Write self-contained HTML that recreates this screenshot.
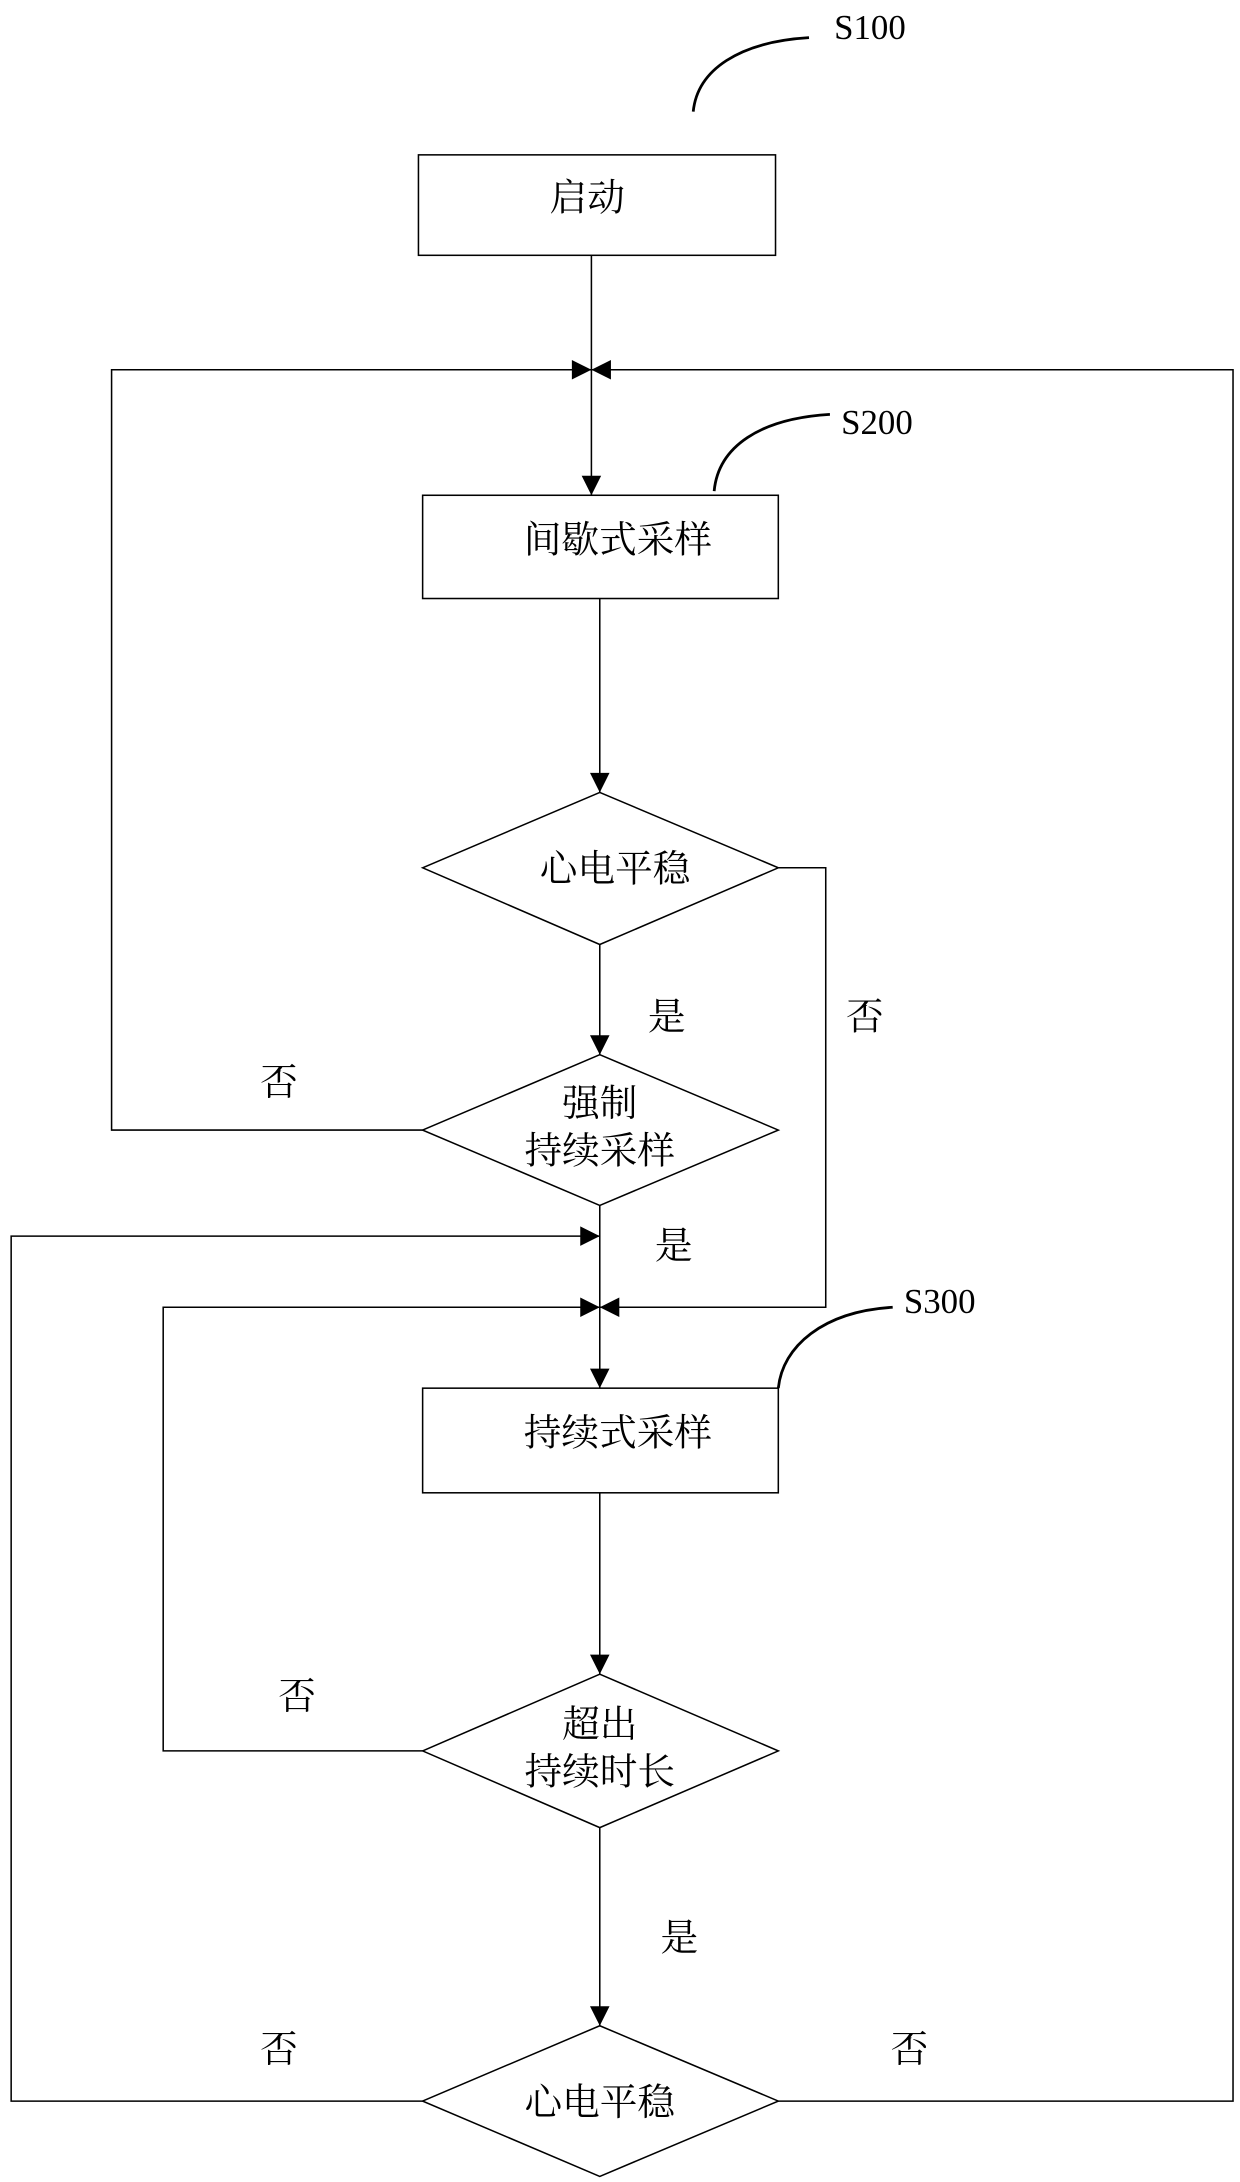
<!DOCTYPE html>
<html><head><meta charset="utf-8"><style>html,body{margin:0;padding:0;background:#fff}svg{display:block}</style></head>
<body>
<svg width="1240" height="2182" viewBox="0 0 889 1564" preserveAspectRatio="none" xmlns="http://www.w3.org/2000/svg">
<g fill="none" stroke="#000" stroke-width="1.1">
<rect x="300" y="111" width="256" height="72"/>
<rect x="303" y="355" width="255" height="74"/>
<rect x="303" y="995" width="255" height="75"/>
<polygon points="303,622 430,568 558,622 430,677"/>
<polygon points="303,810 430,756 558,810 430,864"/>
<polygon points="303,1255 430,1200 558,1255 430,1310"/>
<polygon points="303,1506 430,1452 558,1506 430,1560"/>
<line x1="424" y1="183" x2="424" y2="355"/>
<polyline points="303,810 80,810 80,265 424,265"/>
<polyline points="558,1506 884,1506 884,265 424,265"/>
<line x1="430" y1="429" x2="430" y2="568"/>
<line x1="430" y1="677" x2="430" y2="756"/>
<polyline points="558,622 592,622 592,937 430,937"/>
<line x1="430" y1="864" x2="430" y2="995"/>
<polyline points="303,1506 8,1506 8,886 430,886"/>
<polyline points="303,1255 117,1255 117,937 430,937"/>
<line x1="430" y1="1070" x2="430" y2="1200"/>
<line x1="430" y1="1310" x2="430" y2="1452"/>
<path d="M497,80 C500,50 530,30 580,27" stroke-width="2"/>
<path d="M512,352 C515,320 545,300 595,297" stroke-width="2"/>
<path d="M558,995 C561,965 590,940 640,937" stroke-width="2"/>
</g>
<g fill="#000">
<polygon points="424,265 410,258 410,272"/>
<polygon points="424,265 438,258 438,272"/>
<polygon points="424,355 417,341 431,341"/>
<polygon points="430,568 423,554 437,554"/>
<polygon points="430,756 423,742 437,742"/>
<polygon points="430,886 416,879 416,893"/>
<polygon points="430,937 416,930 416,944"/>
<polygon points="430,937 444,930 444,944"/>
<polygon points="430,995 423,981 437,981"/>
<polygon points="430,1200 423,1186 437,1186"/>
<polygon points="430,1452 423,1438 437,1438"/>
</g>
<g font-family="Liberation Serif, Noto Serif CJK SC, serif" font-size="25" fill="#000">
<text x="598" y="28">S100</text>
<text x="603" y="311">S200</text>
<text x="648" y="941">S300</text>
</g>
<g font-family="Liberation Serif, Noto Serif CJK SC, serif" font-size="27" fill="#000" text-anchor="middle">
<text x="421" y="151">启动</text>
<text x="443" y="396">间歇式采样</text>
<text x="441" y="632">心电平稳</text>
<text x="430" y="800">强制</text>
<text x="430" y="834">持续采样</text>
<text x="443" y="1036">持续式采样</text>
<text x="430" y="1245">超出</text>
<text x="430" y="1279">持续时长</text>
<text x="430" y="1516">心电平稳</text>
<text x="478" y="738">是</text>
<text x="620" y="738">否</text>
<text x="200" y="785">否</text>
<text x="483" y="902">是</text>
<text x="213" y="1225">否</text>
<text x="487" y="1398">是</text>
<text x="200" y="1478">否</text>
<text x="652" y="1478">否</text>
</g>
</svg>
</body></html>
